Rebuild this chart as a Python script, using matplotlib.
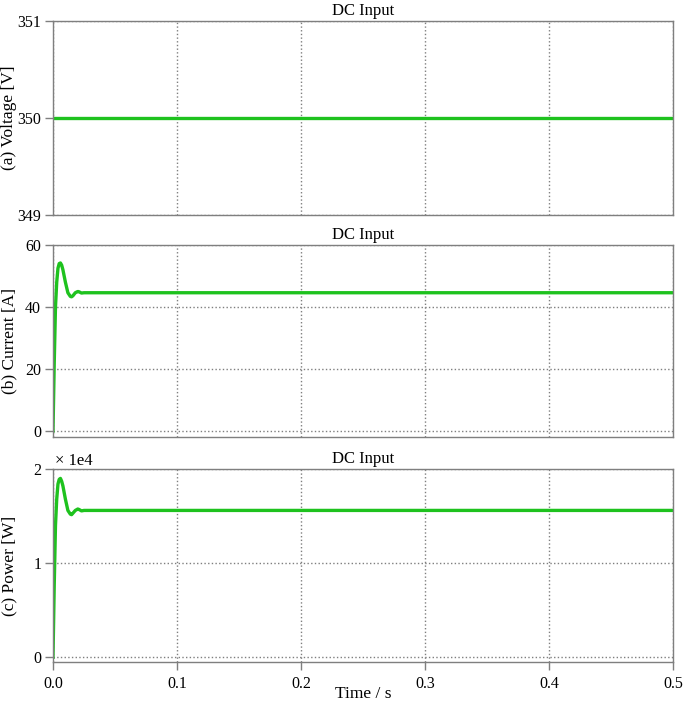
import numpy as np
import matplotlib
matplotlib.use('Agg')
from matplotlib import pyplot as plt

# time samples [s]
t = [0.0, 0.001, 0.002, 0.003, 0.004, 0.005, 0.006, 0.007, 0.008, 0.010,
     0.012, 0.014, 0.015, 0.016, 0.018, 0.020, 0.021, 0.023, 0.025, 0.03, 0.5]
voltage = [350.0] * len(t)
current = [0.0, 22.0, 40.0, 48.0, 52.5, 54.0, 54.2, 53.5, 52.0, 48.0,
           44.6, 43.4, 43.3, 43.6, 44.6, 45.0, 44.9, 44.5, 44.6, 44.6, 44.6]
power = [0.0, 0.77, 1.40, 1.68, 1.84, 1.89, 1.90, 1.87, 1.82, 1.68,
         1.56, 1.52, 1.515, 1.53, 1.56, 1.575, 1.57, 1.555, 1.56, 1.56, 1.56]  # x 1e4 W

xticks = [0.0, 0.1, 0.2, 0.3, 0.4, 0.5]
green = '#1ec21e'
gray = '#7f7f7f'

plt.rcParams['font.family'] = ['Liberation Serif', 'DejaVu Serif']
plt.rcParams['font.size'] = 12

fig = plt.figure(figsize=(6.85, 7.05), dpi=100)
L, W = 53/685, 620/685
ax1 = fig.add_axes([L, 1-215/705, W, 194/705])
ax2 = fig.add_axes([L, 1-437/705, W, 192/705])
ax3 = fig.add_axes([L, 1-662/705, W, 193/705])

def style(ax, ylab, yt, ylim, ylabels=None):
    ax.set_xlim(0, 0.5)
    ax.set_xticks(xticks)
    ax.set_yticks(yt)
    if ylabels is not None:
        ax.set_yticklabels(ylabels)
    ax.set_ylim(*ylim)
    ax.grid(True, linestyle=':', color=gray, linewidth=1)
    ax.set_axisbelow(True)
    for s in ax.spines.values():
        s.set_color(gray)
        s.set_linewidth(1)
    ax.tick_params(colors=gray, labelcolor='black', length=6, width=1,
                   labelsize=11.5, pad=2.5, direction='out', top=False, right=False)
    ax.set_ylabel(ylab, fontsize=12.5)
    # right edge of the rotated label sits about 17 px from the figure edge
    ax.yaxis.set_label_coords(-36/620, 0.5)
    ax.set_title('DC Input', fontsize=12, pad=4)

ax1.plot(t, voltage, color=green, linewidth=2.4)
style(ax1, '(a) Voltage [V]', [349, 350, 351], (349, 351))
ax1.tick_params(axis='x', bottom=False, labelbottom=False)

ax2.plot(t, current, color=green, linewidth=2.4)
style(ax2, '(b) Current [A]', [0, 20, 40, 60], (-1.94, 60))
ax2.tick_params(axis='x', bottom=False, labelbottom=False)

ax3.plot(t, power, color=green, linewidth=2.4)
style(ax3, '(c) Power [W]', [0, 1, 2], (-0.05, 2), ['0', '1', '2'])
ax3.set_xticklabels(['0.0', '0.1', '0.2', '0.3', '0.4', '0.5'])
ax3.tick_params(axis='x', pad=4)
ax3.text(0.004, 1.0, '× 1e4', transform=ax3.transAxes, fontsize=12,
         va='bottom', ha='left')
ax3.set_xlabel('Time / s', fontsize=12.5)
ax3.xaxis.set_label_coords(0.5, -24/193)

fig.savefig('out.png', dpi=100)
